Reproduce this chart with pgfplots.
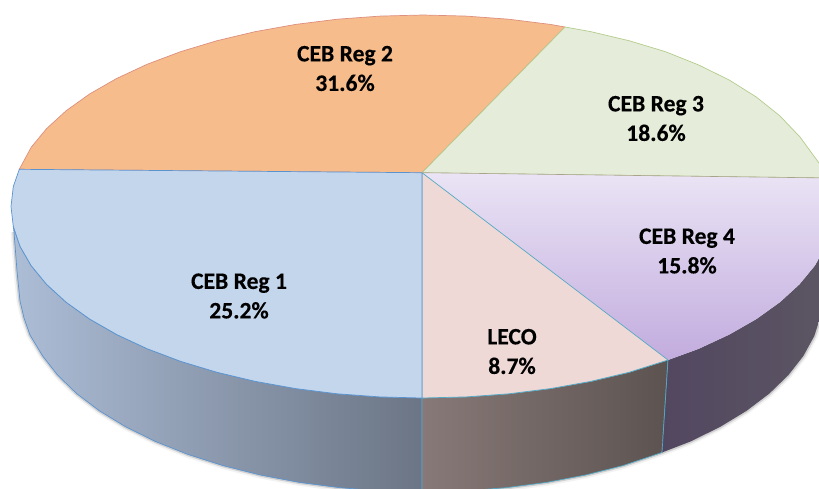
\documentclass[border=0pt]{standalone}
\usepackage{pgfplots}
\pgfplotsset{compat=1.18}
\usepackage{fontspec}
\setmainfont{Carlito}[BoldFeatures={FakeBold=0.3}]

\definecolor{topblue}{HTML}{C3D6EC}
\definecolor{toporange}{HTML}{F6BC8C}
\definecolor{topgreen}{HTML}{E5ECD9}
\definecolor{toppink}{HTML}{EFD9D6}
\definecolor{edgeblue}{HTML}{5B93CF}
\definecolor{edgeorange}{HTML}{DE8F7E}
\definecolor{edgegreen}{HTML}{B4CC8C}
\definecolor{edgecyan}{HTML}{55A8C4}
\definecolor{sideblueL}{HTML}{ACBDD6}
\definecolor{sideblueR}{HTML}{6B7585}
\definecolor{sidebrownL}{HTML}{877977}
\definecolor{sidebrownR}{HTML}{5C5350}
\definecolor{sidepurpleL}{HTML}{524760}
\definecolor{sidepurpleR}{HTML}{5C5663}
\definecolor{toppurpleT}{HTML}{EAE4F5}
\definecolor{toppurpleB}{HTML}{C2ACDE}

\tikzset{lab/.style={font=\bfseries\fontsize{23.6}{29.5}\selectfont, align=center, text=black}}

\begin{document}
\begin{tikzpicture}[line join=round]
\begin{axis}[
    scale only axis,
    width=819pt, height=488pt,
    xmin=0, xmax=819, ymin=0, ymax=488,
    y dir=reverse,
    hide axis,
    clip=true,
]
% soft shadow under the lower rim
\addplot[draw=black, opacity=0.05, line width=7pt] coordinates {(14,232) (17,271) (20,301) (24,318) (30,335) (42.6,355.9) (57.6,375.1) (76.6,393.5) (99.4,410.8) (125.7,426.8) (155.3,441.4) (187.9,454.4) (223,465.6) (260.3,475) (299.4,482.4) (339.8,487.7) (381.2,490.9) (423,492) (464.8,490.9) (506.2,487.7) (546.6,482.4) (585.7,475) (623,465.6) (662,452.5) (690.7,441.4) (720.3,426.8) (746.6,410.8) (769.4,393.5) (788.4,375.1) (803.4,355.9) (814.3,336) (820.8,315.6)};
\addplot[draw=black, opacity=0.14, line width=3.5pt] coordinates {(14,232) (17,271) (20,301) (24,318) (30,335) (42.6,355.9) (57.6,375.1) (76.6,393.5) (99.4,410.8) (125.7,426.8) (155.3,441.4) (187.9,454.4) (223,465.6) (260.3,475) (299.4,482.4) (339.8,487.7) (381.2,490.9) (423,492) (464.8,490.9) (506.2,487.7) (546.6,482.4) (585.7,475) (623,465.6) (662,452.5) (690.7,441.4) (720.3,426.8) (746.6,410.8) (769.4,393.5) (788.4,375.1) (803.4,355.9) (814.3,336) (820.8,315.6)};

% side walls
\addplot[left color=sideblueL, right color=sideblueR, draw=edgeblue, line width=0.7pt] coordinates {
    (13.3,226.5) (20,246.3) (31.2,265.7) (46.6,284.4) (66.2,302.3) (89.7,319.1) (116.8,334.6) (147.3,348.8) (180.8,361.4) (217,372.3) (255.4,381.4) (295.7,388.6) (337.3,393.8) (379.9,396.9) (422,398)
    (422,492) (381.2,490.9) (339.8,487.7) (299.4,482.4) (260.3,475) (223,465.6) (187.9,454.4) (155.3,441.4) (125.7,426.8) (99.4,410.8) (76.6,393.5) (57.6,375.1) (42.6,355.9) (30,335) (24,318) (20,301) (17,271) (14,232)} --cycle;
\addplot[left color=sidebrownL, right color=sidebrownR, draw=edgecyan, line width=0.7pt] coordinates {
    (422,398) (466.1,396.9) (508.7,393.8) (550.3,388.6) (590.6,381.4) (629,372.3) (668,360) (662,452.5) (623,465.6) (585.7,475) (546.6,482.4) (506.2,487.7) (464.8,490.9) (422,492)} --cycle;
\addplot[left color=sidepurpleL, right color=sidepurpleR, draw=none] coordinates {
    (668,360) (698.7,348.8) (729.2,334.6) (756.3,319.1) (779.8,302.3) (799.4,284.4) (814.8,265.7) (826,246.3) (832,226) (832,300) (820.8,315.6) (814.3,336) (803.4,355.9) (788.4,375.1) (769.4,393.5) (746.6,410.8) (720.3,426.8) (690.7,441.4) (662,452.5)} --cycle;
\addplot[draw=edgecyan, line width=0.7pt] coordinates {(668,360) (662,452.5)};

% top faces
\addplot[fill=toporange, draw=edgeorange, line width=0.7pt] coordinates {
    (422,172.7) (19.3,169.3) (31.2,147.3) (46.6,128.6) (66.2,110.7) (89.7,93.9) (116.8,78.4) (147.3,64.2) (180.8,51.6) (217,40.7) (255.4,31.6) (295.7,24.4) (337.3,19.2) (379.9,16.1) (423,15) (466.1,16.1) (508.7,19.2) (550.3,24.4) (565,27)} --cycle;
\addplot[fill=topgreen, draw=edgegreen, line width=0.7pt] coordinates {
    (422,172.7) (565,27) (590.6,31.6) (629,40.7) (665.2,51.6) (698.7,65) (729.2,80) (756.3,97) (780,116) (800,137) (819,163) (830,178)} --cycle;
\addplot[top color=toppurpleT, bottom color=toppurpleB, draw=none] coordinates {
    (422,172.7) (830,178) (832,226) (826,246.3) (814.8,265.7) (799.4,284.4) (779.8,302.3) (756.3,319.1) (729.2,334.6) (698.7,348.8) (668,360)} --cycle;
\addplot[fill=toppink, draw=edgecyan, line width=0.7pt] coordinates {
    (422,172.7) (668,360) (629,372.3) (590.6,381.4) (550.3,388.6) (508.7,393.8) (466.1,396.9) (422,398)} --cycle;
\addplot[fill=topblue, draw=edgeblue, line width=0.7pt] coordinates {
    (422,172.7) (422,398) (379.9,396.9) (337.3,393.8) (295.7,388.6) (255.4,381.4) (217,372.3) (180.8,361.4) (147.3,348.8) (116.8,334.6) (89.7,319.1) (66.2,302.3) (46.6,284.4) (31.2,265.7) (20,246.3) (13.3,226.5) (11,206.5) (13.3,186.5) (19.3,169.3)} --cycle;
\addplot[draw=edgegreen!80!violet, line width=0.6pt] coordinates {(422,172.7) (830,178)};

% labels
\node[lab] at (axis cs:345,68.5) {CEB Reg 2\\31.6\%};
\node[lab] at (axis cs:656,118.5) {CEB Reg 3\\18.6\%};
\node[lab] at (axis cs:687,251) {CEB Reg 4\\15.8\%};
\node[lab] at (axis cs:239,296) {CEB Reg 1\\25.2\%};
\node[lab] at (axis cs:512,351.5) {LECO\\8.7\%};
\end{axis}
\pgfresetboundingbox
\useasboundingbox (0,0) rectangle (819pt,488pt);
\end{tikzpicture}
\end{document}
